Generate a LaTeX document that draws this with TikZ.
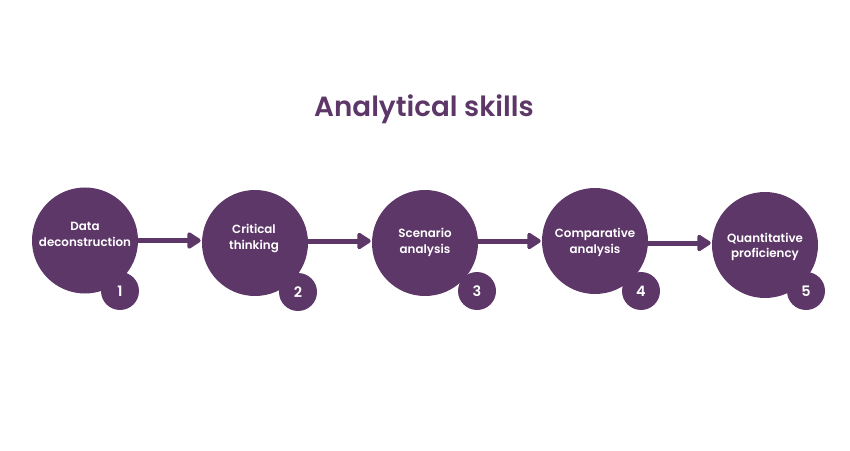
\documentclass[tikz,border=0pt]{standalone}
\usepackage{fontspec}
\setmainfont{Poppins}[UprightFont=* SemiBold]
\usepackage{xcolor}
\usetikzlibrary{arrows.meta}
\definecolor{plum}{HTML}{5D3768}
\tikzset{
  skill/.style={circle,fill=plum,minimum size=2.12cm,inner sep=0pt},
  badge/.style={circle,fill=plum,minimum size=0.76cm,inner sep=0pt,text=white,font=\fontsize{8.2}{10}\selectfont},
  caption/.style={text=white,align=center,font=\fontsize{6.75}{9}\selectfont},
  flow/.style={-{Triangle[width=3.7mm,length=3mm,round]},plum,line width=1mm,shorten >=0.2mm},
}
\begin{document}
\begin{tikzpicture}
        \useasboundingbox (0,0) rectangle (17,9);

        \node[text=plum,font=\fontsize{15.8}{18}\selectfont] (title) at (8.48,6.81) {Analytical skills};

        \node[skill] (c1) at (1.70,4.19) {};
        \node[skill] (c2) at (5.10,4.14) {};
        \node[skill] (c3) at (8.50,4.14) {};
        \node[skill] (c4) at (11.90,4.18) {};
        \node[skill] (c5) at (15.30,4.10) {};

        \node[badge] (b1) at (2.40,3.18) {1};
        \node[badge] (b2) at (5.96,3.16) {2};
        \node[badge] (b3) at (9.54,3.18) {3};
        \node[badge] (b4) at (12.82,3.18) {4};
        \node[badge] (b5) at (16.12,3.18) {5};

        \node[caption] (t1) at (1.70,4.31) {Data\\deconstruction};
        \node[caption] (t2) at (5.08,4.23) {Critical\\thinking};
        \node[caption] (t3) at (8.50,4.15) {Scenario\\analysis};
        \node[caption] (t4) at (11.90,4.15) {Comparative\\analysis};
        \node[caption] (t5) at (15.30,4.06) {Quantitative\\proficiency};

        \draw[flow] (c1.east) -- (c1.east -| c2.west);
        \draw[flow] ([yshift=0.04cm]c2.east) -- ([yshift=0.04cm]c2.east -| c3.west);
        \draw[flow] ([yshift=0.04cm]c3.east) -- ([yshift=0.04cm]c3.east -| c4.west);
        \draw[flow] ([yshift=-0.04cm]c4.east) -- ([yshift=-0.04cm]c4.east -| c5.west);
    \end{tikzpicture}
\end{document}
